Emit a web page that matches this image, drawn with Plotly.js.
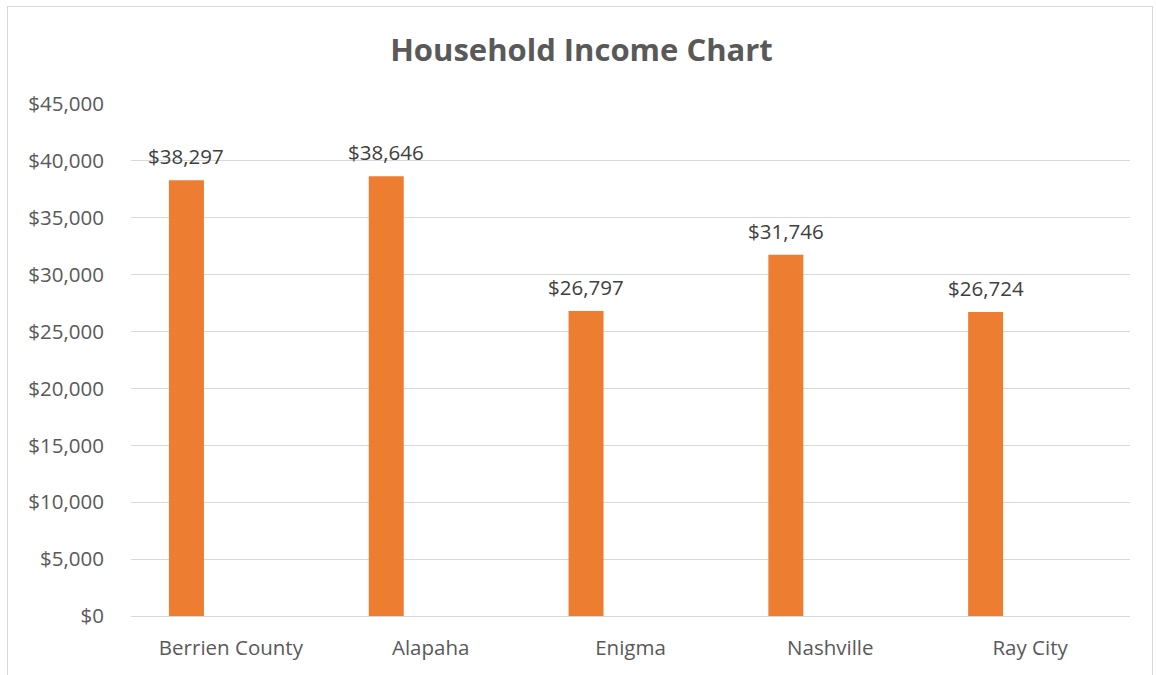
<!DOCTYPE html>
<html>
<head>
<meta charset="utf-8">
<script src="https://cdn.plot.ly/plotly-3.0.1.min.js"></script>
<style>
  html, body { margin: 0; padding: 0; background: #ffffff; }
  #wrap { position: relative; width: 1156px; height: 675px; overflow: hidden; }
  #frame { position: absolute; left: 7px; top: 6px; width: 1146px; height: 680px; border: 1px solid #d9d9d9; box-sizing: border-box; pointer-events: none; }
  #chart { position: absolute; left: 0; top: 0; width: 1156px; height: 675px; }
</style>
</head>
<body>
<div id="wrap">
  <div id="chart"></div>
  <div id="frame"></div>
</div>
<script>
const categories = ["Berrien County", "Alapaha", "Enigma", "Nashville", "Ray City"];
const incomeValues = [38297, 38646, 26797, 31746, 26724];
const yTickValues = [0, 5000, 10000, 15000, 20000, 25000, 30000, 35000, 40000, 45000];
const yTickLabels = ["$0", "$5,000", "$10,000", "$15,000", "$20,000", "$25,000", "$30,000", "$35,000", "$40,000", "$45,000"];

const FONT = "'Open Sans', sans-serif";

const trace = {
  type: "bar",
  x: categories,
  y: incomeValues,
  width: 0.175,
  offset: -0.31,
  marker: { color: "#ed7d31" },
  hoverinfo: "x+y"
};

const annotations = categories.map((c, i) => ({
  x: c,
  y: incomeValues[i],
  xref: "x",
  yref: "y",
  text: "$" + incomeValues[i].toLocaleString("en-US"),
  showarrow: false,
  xanchor: "center",
  yanchor: "bottom",
  xshift: -44.5,
  yshift: 8,
  font: { family: FONT, size: 20.5, color: "#404040" }
}));

const layout = {
  width: 1156,
  height: 675,
  margin: { l: 131, r: 26, t: 104, b: 59 },
  paper_bgcolor: "rgba(0,0,0,0)",
  plot_bgcolor: "#ffffff",
  showlegend: false,
  annotations: annotations,
  title: {
    text: "<b>Household Income Chart</b>",
    font: { family: FONT, size: 31, color: "#595959" },
    x: 0.503,
    xanchor: "center",
    y: 0.926,
    yanchor: "middle"
  },
  xaxis: {
    type: "category",
    range: [-0.5, 4.5],
    showgrid: false,
    showline: false,
    zeroline: false,
    ticks: "",
    ticklabelstandoff: 17,
    tickfont: { family: FONT, size: 20.5, color: "#595959" }
  },
  yaxis: {
    range: [0, 45000],
    tickvals: yTickValues,
    ticktext: yTickLabels,
    showgrid: true,
    gridcolor: "#d9d9d9",
    gridwidth: 1,
    zeroline: true,
    zerolinecolor: "#d9d9d9",
    zerolinewidth: 1,
    showline: false,
    ticks: "",
    ticklabelstandoff: 26,
    tickfont: { family: FONT, size: 20.5, color: "#595959" }
  },
  font: { family: FONT }
};

Plotly.newPlot("chart", [trace], layout, { displayModeBar: false, staticPlot: true });
</script>
</body>
</html>
